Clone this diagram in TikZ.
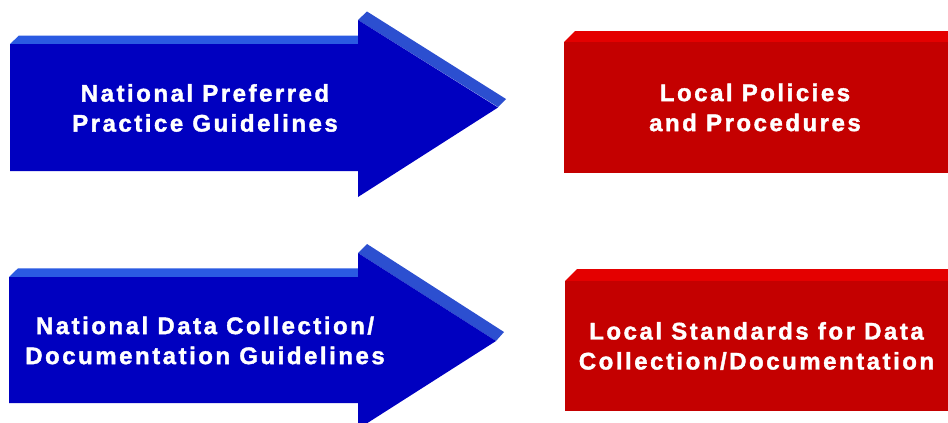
\documentclass[tikz,border=0pt]{standalone}
\usepackage{fontspec}
\newfontfamily\lblfont[LetterSpace=10.5,FakeBold=1.6]{Liberation Sans}
\definecolor{bluefront}{HTML}{0000C0}
\definecolor{bluetop}{HTML}{2A5AE2}
\definecolor{bluediag}{HTML}{2C4FD0}
\definecolor{redfront}{HTML}{C40000}
\definecolor{redtop}{HTML}{E40000}
\tikzset{
  lbl/.style={text=white, align=center, inner sep=0pt, font=\lblfont\bfseries\fontsize{24}{30}\selectfont},
}
\begin{document}
\begin{tikzpicture}[x=1pt,y=-1pt]
\clip (0,0) rectangle (948,423);
\fill[white] (0,0) rectangle (948,423);
% ---- arrow 1
\fill[bluetop] (10,44) -- (19,35.5) -- (360,35.5) -- (360,44) -- cycle;
\fill[bluediag] (358,20) -- (367,11.5) -- (506,99) -- (498,107) -- cycle;
\fill[bluefront] (10,44) -- (358,44) -- (358,20) -- (498,107.5) -- (358,197) -- (358,171) -- (10,171) -- cycle;
\node[lbl] (n1) at (205,108) {National Preferred\\Practice Guidelines};
% ---- arrow 2
\fill[bluetop] (9,277) -- (18,268.3) -- (360,268.3) -- (360,277) -- cycle;
\fill[bluediag] (358,253) -- (367,244) -- (504,332) -- (496,341) -- cycle;
\fill[bluefront] (9,277) -- (358,277) -- (358,253) -- (496,341) -- (358,429) -- (358,403) -- (9,403) -- cycle;
\node[lbl] (n2) at (205,340.5) {National Data Collection/\\Documentation Guidelines};
% ---- red box 1
\fill[redtop] (564,42) -- (575,31) -- (960,31) -- (960,42) -- cycle;
\fill[redfront] (564,42) rectangle (960,173);
\node[lbl] (l1) at (755,107.5) {Local Policies\\and Procedures};
% ---- red box 2
\fill[redtop] (565,281) -- (577,269) -- (960,269) -- (960,281) -- cycle;
\fill[redfront] (565,281) rectangle (960,411);
\node[lbl] (l2) at (756.5,346) {Local Standards for Data\\Collection/Documentation};
\end{tikzpicture}
\end{document}
